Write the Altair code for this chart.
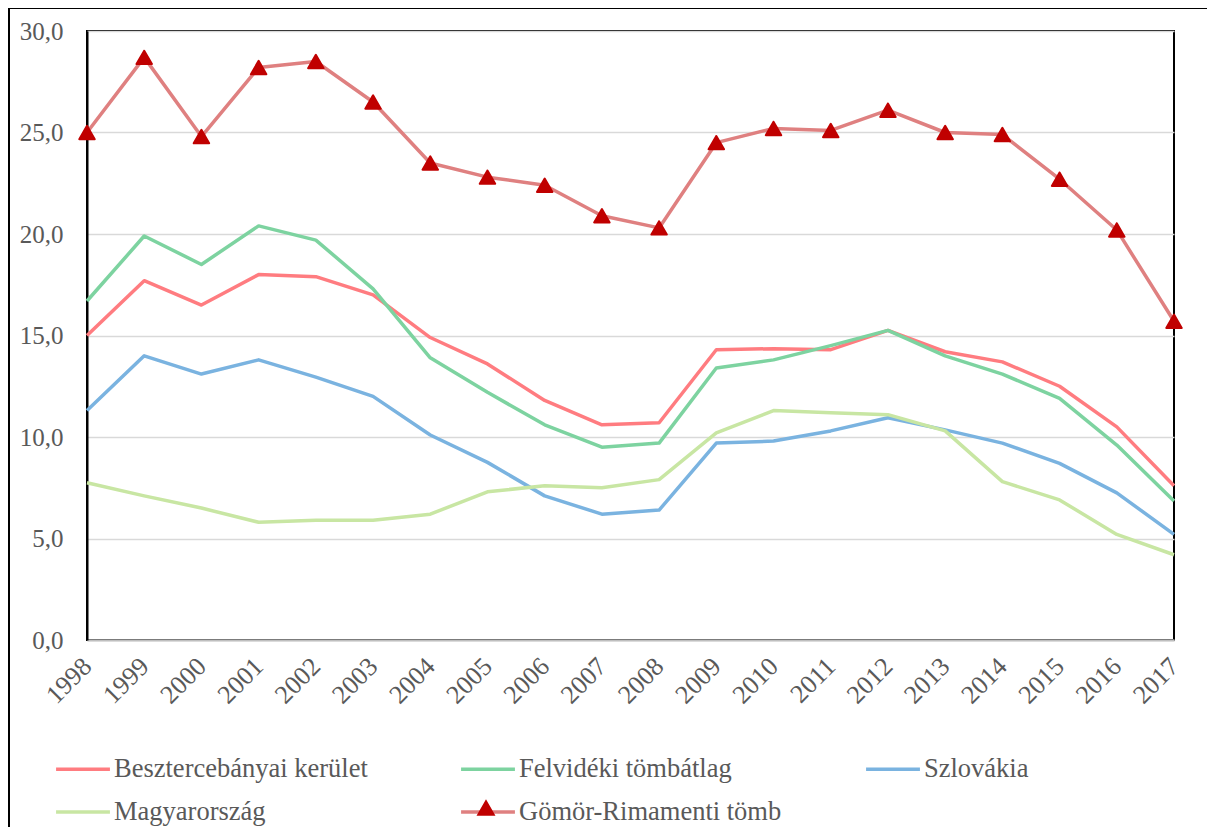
import altair as alt
import pandas as pd

years = list(range(1998, 2018))
series_names = ["Besztercebányai kerület", "Felvidéki tömbátlag", "Szlovákia",
                "Magyarország", "Gömör-Rimamenti tömb"]
besztercebanyai = [15.0, 17.7, 16.5, 18.0, 17.9, 17.0, 14.9, 13.6, 11.8, 10.6,
                   10.7, 14.3, 14.35, 14.3, 15.25, 14.2, 13.7, 12.5, 10.5, 7.6]
felvideki = [16.7, 19.9, 18.5, 20.4, 19.7, 17.3, 13.9, 12.2, 10.6, 9.5,
             9.7, 13.4, 13.8, 14.5, 15.25, 14.0, 13.1, 11.9, 9.6, 6.85]
szlovakia = [11.3, 14.0, 13.1, 13.8, 12.95, 12.0, 10.1, 8.75, 7.1, 6.2,
             6.4, 9.7, 9.8, 10.3, 10.95, 10.35, 9.7, 8.7, 7.25, 5.2]
magyarorszag = [7.75, 7.1, 6.5, 5.8, 5.9, 5.9, 6.2, 7.3, 7.6, 7.5,
                7.9, 10.2, 11.3, 11.2, 11.1, 10.3, 7.8, 6.9, 5.2, 4.2]
gomor = [25.0, 28.7, 24.8, 28.2, 28.5, 26.5, 23.5, 22.8, 22.4, 20.9,
         20.3, 24.5, 25.2, 25.1, 26.1, 25.0, 24.9, 22.7, 20.2, 15.7]
colors = ["#ff7c80", "#7dd3a0", "#7ab3e0", "#c8e6a3", "#df8080"]
widths = [3.5, 3.5, 3.5, 3.5, 7]

all_values = [besztercebanyai, felvideki, szlovakia, magyarorszag, gomor]
rows = []
for name, vals in zip(series_names, all_values):
    for y, v in zip(years, vals):
        rows.append({"year": str(y), "value": v, "series": name})
df = pd.DataFrame(rows)

FONT = "Liberation Serif"
TXT = "#595959"

x_enc = alt.X("year:O", scale=alt.Scale(padding=0), title=None,
              axis=alt.Axis(labelAngle=-45, labelFont=FONT, labelFontSize=26,
                            labelColor=TXT, ticks=False, domainColor="#bfbfbf",
                            domainWidth=2, labelPadding=22, labelAlign="right",
                            labelBaseline="middle", grid=False))
y_enc = alt.Y("value:Q", scale=alt.Scale(domain=[0, 30], nice=False), title=None,
              axis=alt.Axis(values=[0, 5, 10, 15, 20, 25, 30], labelFont=FONT,
                            labelFontSize=25, labelColor=TXT, ticks=False,
                            domainColor="#000000", domainWidth=2, labelPadding=24,
                            gridColor="#d9d9d9", gridWidth=1.5,
                            labelExpr="replace(format(datum.value, '.1f'), '.', ',')"))

frame = alt.Chart(pd.DataFrame({"a": [0]})).mark_rect(
    fill=None, stroke="#000000", strokeWidth=2
).encode(x=alt.value(-78), x2=alt.value(1300), y=alt.value(-23), y2=alt.value(1000))

lines = alt.Chart(df).mark_line(strokeJoin="round", strokeCap="butt").encode(
    x=x_enc,
    y=y_enc,
    color=alt.Color("series:N", scale=alt.Scale(domain=series_names, range=colors),
                    legend=alt.Legend(title=None, orient="none", legendX=-33, legendY=709,
                                      direction="horizontal",
                                      columns=3, gridAlign="all", columnPadding=77,
                                      rowPadding=-13, symbolType="stroke", symbolSize=2900,
                                      labelFont=FONT, labelFontSize=26.5, labelColor=TXT,
                                      labelLimit=0, labelOffset=2, padding=0)),
    strokeWidth=alt.StrokeWidth("series:N", scale=alt.Scale(domain=series_names, range=widths)),
    order=alt.Order("year:O"),
)

points = alt.Chart(df).transform_filter(
    alt.datum.series == "Gömör-Rimamenti tömb"
).transform_calculate(marker="datum.series").mark_point(
    shape="triangle-up", filled=True, size=240, opacity=1,
    stroke="#c00000", strokeWidth=2, strokeJoin="round"
).encode(
    x=x_enc,
    y=y_enc,
    fill=alt.Fill("marker:N", scale=alt.Scale(domain=["Gömör-Rimamenti tömb"], range=["#c00000"]),
                  legend=alt.Legend(title=None, orient="none", legendX=390, legendY=768,
                                    symbolType="triangle-up", symbolSize=240,
                                    symbolStrokeColor="#c00000", symbolStrokeWidth=2,
                                    labelExpr="''", padding=0, symbolOpacity=1)),
)

chart = alt.layer(frame, lines, points).properties(
    width=1087, height=609,
    background="#ffffff",
    autosize=alt.AutoSizeParams(type="none"),
    padding={"left": 79, "top": 23, "right": 33, "bottom": 189},
).configure_view(stroke="#000000", strokeWidth=2)

chart.save("out.html", embed_options={"renderer": "svg", "actions": False})
